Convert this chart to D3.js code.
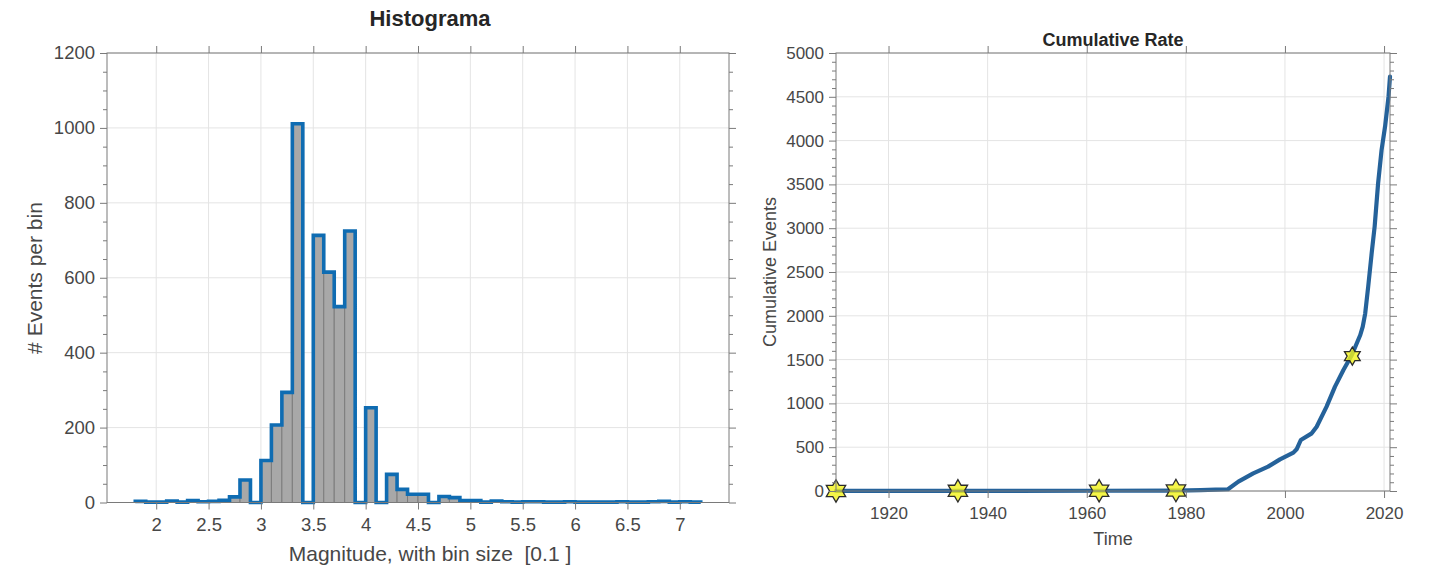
<!DOCTYPE html>
<html>
<head>
<meta charset="utf-8">
<script src="https://cdn.jsdelivr.net/npm/d3@7"></script>
<style>
html,body{margin:0;padding:0;background:#fff;}
svg{display:block;font-family:"Liberation Sans",Arial,Helvetica,sans-serif;}
text{white-space:pre;}
</style>
</head>
<body>
<svg id="chart" width="1432" height="570"></svg>
<script>
// ---------------- DATA ----------------
// Histogram: bin left edges (magnitude) and counts per 0.1 bin
const binStart = 1.8;
const binSize = 0.1;
const binCounts = [3, 1, 1, 4, 1, 5, 2, 3, 6, 15, 60, 0, 112, 207, 294, 1011, 0, 713, 615, 523, 725, 0, 253, 0, 75, 35, 22, 22, 0, 16, 13, 5, 5, 1, 4, 2, 1, 2, 2, 1, 1, 2, 1, 1, 1, 1, 2, 1, 1, 2, 3, 1, 2, 1];
const histXTicks = [2, 2.5, 3, 3.5, 4, 4.5, 5, 5.5, 6, 6.5, 7];
const histYTicks = [0, 200, 400, 600, 800, 1000, 1200];

// Cumulative rate
const cumYears  = [1909.4, 1934.0, 1962.5, 1978.0, 1983.0, 1986.0, 1988.5, 1990.6, 1993.6, 1996.6, 1999.0, 2001.7, 2002.4, 2003.2, 2005.4, 2006.4, 2008.4, 2010.1, 2011.8, 2013.5, 2015.2, 2015.7, 2016.2, 2016.8, 2017.5, 2018.1, 2018.8, 2019.5, 2020.2, 2020.9, 2021.2];
const cumEvents = [1, 2, 3, 5, 10, 15, 20, 107, 202, 278, 361, 438, 480, 582, 658, 734, 963, 1191, 1381, 1553, 1781, 1876, 2028, 2333, 2713, 3018, 3513, 3893, 4159, 4501, 4730];
const starYears  = [1909.4, 1934.0, 1962.5, 1978.0, 2013.6];
const starEvents = [0, 2, 3, 5, 1540];
const cumXTicks = [1920, 1940, 1960, 1980, 2000, 2020];
const cumYTicks = [0, 500, 1000, 1500, 2000, 2500, 3000, 3500, 4000, 4500, 5000];

// ---------------- STYLE ----------------
const axisColor = "#7a7a7a";
const textColor = "#474747";
const gridColor = "#e4e4e4";

const svg = d3.select("#chart");

function drawFrame(g, x, y, xTicks, yTicks) {
  const [x0, x1] = x.range();
  const [y0, y1] = y.range();
  g.append("g").selectAll("line").data(xTicks).join("line")
    .attr("x1", d => x(d)).attr("x2", d => x(d)).attr("y1", y0).attr("y2", y1)
    .attr("stroke", gridColor).attr("stroke-width", 1);
  g.append("g").selectAll("line").data(yTicks).join("line")
    .attr("x1", x0).attr("x2", x1).attr("y1", d => y(d)).attr("y2", d => y(d))
    .attr("stroke", gridColor).attr("stroke-width", 1);
}

function drawAxes(g, x, y, xTicks, yTicks, yMinorStep, opts) {
  const [x0, x1] = x.range();
  const [y0, y1] = y.range();
  const yd = y.domain();
  const minor = d3.range(yd[0], yd[1] + 1e-9, yMinorStep).filter(v => !yTicks.includes(v));
  const ax = g.append("g").attr("transform", `translate(0,${y0})`)
    .call(d3.axisBottom(x).tickValues(xTicks).tickSize(7).tickPadding(opts.xPad).tickFormat(d3.format("")));
  const at = g.append("g").attr("transform", `translate(0,${y1})`)
    .call(d3.axisTop(x).tickValues(xTicks).tickSize(7).tickFormat(""));
  const al = g.append("g").attr("transform", `translate(${x0},0)`)
    .call(d3.axisLeft(y).tickValues(yTicks).tickSize(7).tickPadding(opts.yPad).tickFormat(d3.format("")));
  const alm = g.append("g").attr("transform", `translate(${x0},0)`)
    .call(d3.axisLeft(y).tickValues(minor).tickSize(4).tickFormat(""));
  const ar = g.append("g").attr("transform", `translate(${x1},0)`)
    .call(d3.axisRight(y).tickValues(yTicks).tickSize(7).tickFormat(""));
  const arm = g.append("g").attr("transform", `translate(${x1},0)`)
    .call(d3.axisRight(y).tickValues(minor).tickSize(4).tickFormat(""));
  [ax, at, al, alm, ar, arm].forEach(a => {
    a.select(".domain").remove();
    a.selectAll(".tick line").attr("stroke", axisColor);
    a.selectAll(".tick text").attr("fill", textColor)
      .style("font-size", opts.tickFont + "px")
      .style("font-family", '"Liberation Sans", Arial, sans-serif');
  });
  g.append("rect").attr("x", x0).attr("y", y1).attr("width", x1 - x0).attr("height", y0 - y1)
    .attr("fill", "none").attr("stroke", axisColor).attr("stroke-width", 1);
}

// ---------------- LEFT: HISTOGRAM ----------------
const hx = d3.scaleLinear().domain([1.53, 7.47]).range([107, 729]);
const hy = d3.scaleLinear().domain([0, 1200]).range([502.5, 53]);
const hg = svg.append("g");
drawFrame(hg, hx, hy, histXTicks, histYTicks);

const bins = binCounts.map((c, i) => ({x0: +(binStart + i * binSize).toFixed(2), x1: +(binStart + (i + 1) * binSize).toFixed(2), c}));
hg.append("g").selectAll("rect").data(bins.filter(b => b.c > 0)).join("rect")
  .attr("x", d => hx(d.x0)).attr("width", d => hx(d.x1) - hx(d.x0))
  .attr("y", d => hy(d.c)).attr("height", d => hy(0) - hy(d.c))
  .attr("fill", "#a8a8a8").attr("stroke", "#7c7c7c").attr("stroke-width", 1);

const stairPts = [];
stairPts.push([bins[0].x0, 0]);
bins.forEach(b => { stairPts.push([b.x0, b.c]); stairPts.push([b.x1, b.c]); });
stairPts.push([bins[bins.length - 1].x1, 0]);
hg.append("path")
  .attr("d", d3.line().x(d => hx(d[0])).y(d => hy(d[1]))(stairPts))
  .attr("fill", "none").attr("stroke", "#0f6cb2").attr("stroke-width", 3.6)
  .attr("stroke-linejoin", "miter");

drawAxes(hg, hx, hy, histXTicks, histYTicks, 50, {tickFont: 18.5, xPad: 8, yPad: 5});

hg.append("text").attr("x", 430).attr("y", 26).attr("text-anchor", "middle")
  .attr("font-weight", "bold").attr("font-size", 22).attr("fill", "#262626").text("Histograma");
hg.append("text").attr("x", 430).attr("y", 561).attr("text-anchor", "middle")
  .attr("font-size", 21).attr("fill", textColor).text("Magnitude, with bin size  [0.1 ]");
hg.append("text").attr("transform", "translate(42,278) rotate(-90)").attr("text-anchor", "middle")
  .attr("font-size", 21).attr("fill", textColor).text("# Events per bin");

// ---------------- RIGHT: CUMULATIVE RATE ----------------
const cx = d3.scaleLinear().domain([1909.4, 2021.2]).range([836, 1390]);
const cy = d3.scaleLinear().domain([0, 5000]).range([491, 53]);
const cg = svg.append("g");
drawFrame(cg, cx, cy, cumXTicks, cumYTicks);

const cumPts = cumYears.map((t, i) => [t, cumEvents[i]]);
cg.append("path")
  .attr("d", d3.line().x(d => cx(d[0])).y(d => cy(d[1]))(cumPts))
  .attr("fill", "none").attr("stroke", "#25629a").attr("stroke-width", 4.2)
  .attr("stroke-linejoin", "round").attr("stroke-linecap", "round");

const hexagram = {
  draw(context, size) {
    const R = Math.sqrt(size) / 2;
    const r = R / Math.sqrt(3);
    for (let k = 0; k < 12; k++) {
      const a = -Math.PI / 2 + k * Math.PI / 6;
      const rad = k % 2 === 0 ? R : r;
      const px = rad * Math.cos(a), py = rad * Math.sin(a);
      if (k === 0) context.moveTo(px, py); else context.lineTo(px, py);
    }
    context.closePath();
  }
};
const starPts = starYears.map((t, i) => [t, starEvents[i]]);
cg.append("g").selectAll("path").data(starPts).join("path")
  .attr("transform", d => `translate(${cx(d[0])},${cy(d[1])})`)
  .attr("d", (d, i) => d3.symbol().type(hexagram).size(i === 4 ? 330 : 500)())
  .attr("fill", "#f2f21a").attr("fill-opacity", 0.8)
  .attr("stroke", "#2b2b2b").attr("stroke-width", 1.3);

drawAxes(cg, cx, cy, cumXTicks, cumYTicks, 100, {tickFont: 17, xPad: 9, yPad: 5});

cg.append("text").attr("x", 1113).attr("y", 46).attr("text-anchor", "middle")
  .attr("font-weight", "bold").attr("font-size", 18).attr("fill", "#262626").text("Cumulative Rate");
cg.append("text").attr("x", 1113).attr("y", 545).attr("text-anchor", "middle")
  .attr("font-size", 18).attr("fill", textColor).text("Time");
cg.append("text").attr("transform", "translate(776,272) rotate(-90)").attr("text-anchor", "middle")
  .attr("font-size", 18).attr("fill", textColor).text("Cumulative Events");
</script>
</body>
</html>
